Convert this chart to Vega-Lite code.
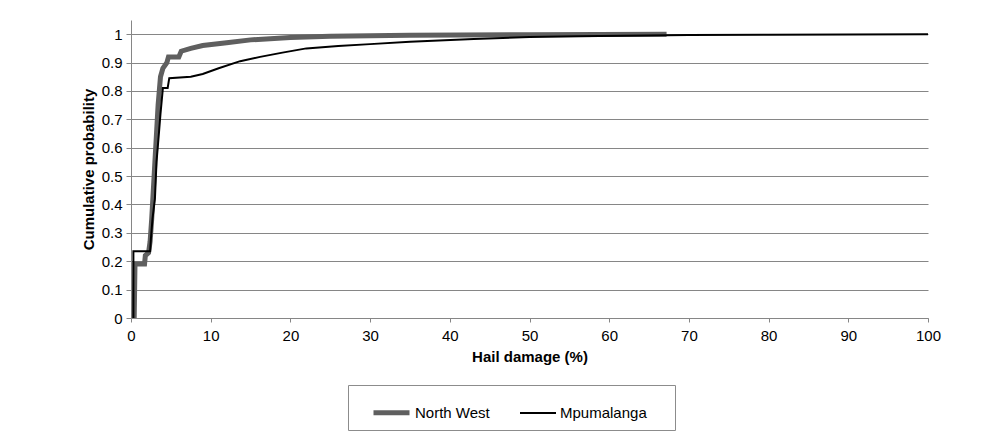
{
  "$schema": "https://vega.github.io/schema/vega-lite/v6.json",
  "autosize": {"type": "none"},
  "padding": {"left": 131, "top": 20, "right": 67, "bottom": 116},
  "width": 797,
  "height": 298,
  "background": "white",
  "config": {
    "font": "Liberation Sans",
    "view": {"stroke": null},
    "axis": {
      "gridColor": "#868686",
      "gridWidth": 1,
      "domainColor": "#868686",
      "tickColor": "#868686",
      "labelColor": "#000000",
      "titleColor": "#000000",
      "labelFontSize": 15,
      "titleFontSize": 15,
      "titleFontWeight": "bold",
      "labelFlush": false
    }
  },
  "data": {
    "values": [
      {"series": "North West", "damage": 0.4, "p": 0},
      {"series": "North West", "damage": 0.5, "p": 0.19},
      {"series": "North West", "damage": 1.7, "p": 0.19},
      {"series": "North West", "damage": 1.8, "p": 0.22},
      {"series": "North West", "damage": 2.2, "p": 0.23},
      {"series": "North West", "damage": 2.4, "p": 0.27},
      {"series": "North West", "damage": 2.6, "p": 0.35},
      {"series": "North West", "damage": 2.8, "p": 0.45},
      {"series": "North West", "damage": 3.0, "p": 0.55},
      {"series": "North West", "damage": 3.2, "p": 0.65},
      {"series": "North West", "damage": 3.4, "p": 0.75},
      {"series": "North West", "damage": 3.7, "p": 0.85},
      {"series": "North West", "damage": 4.0, "p": 0.88},
      {"series": "North West", "damage": 4.5, "p": 0.9},
      {"series": "North West", "damage": 4.7, "p": 0.92},
      {"series": "North West", "damage": 6.0, "p": 0.92},
      {"series": "North West", "damage": 6.3, "p": 0.94},
      {"series": "North West", "damage": 7.5, "p": 0.95},
      {"series": "North West", "damage": 9, "p": 0.96},
      {"series": "North West", "damage": 12, "p": 0.97},
      {"series": "North West", "damage": 15, "p": 0.98},
      {"series": "North West", "damage": 20, "p": 0.988},
      {"series": "North West", "damage": 25, "p": 0.993},
      {"series": "North West", "damage": 35, "p": 0.996},
      {"series": "North West", "damage": 50, "p": 0.998},
      {"series": "North West", "damage": 67.2, "p": 1.0},
      {"series": "Mpumalanga", "damage": 0.3, "p": 0},
      {"series": "Mpumalanga", "damage": 0.3, "p": 0.235},
      {"series": "Mpumalanga", "damage": 2.4, "p": 0.235},
      {"series": "Mpumalanga", "damage": 2.5, "p": 0.28},
      {"series": "Mpumalanga", "damage": 2.7, "p": 0.35},
      {"series": "Mpumalanga", "damage": 3.0, "p": 0.42},
      {"series": "Mpumalanga", "damage": 3.2, "p": 0.55},
      {"series": "Mpumalanga", "damage": 3.5, "p": 0.65},
      {"series": "Mpumalanga", "damage": 3.7, "p": 0.72},
      {"series": "Mpumalanga", "damage": 4.0, "p": 0.81},
      {"series": "Mpumalanga", "damage": 4.6, "p": 0.81},
      {"series": "Mpumalanga", "damage": 4.8, "p": 0.845},
      {"series": "Mpumalanga", "damage": 7.5, "p": 0.85},
      {"series": "Mpumalanga", "damage": 9, "p": 0.86},
      {"series": "Mpumalanga", "damage": 11, "p": 0.88},
      {"series": "Mpumalanga", "damage": 13.7, "p": 0.905},
      {"series": "Mpumalanga", "damage": 16.2, "p": 0.92},
      {"series": "Mpumalanga", "damage": 19, "p": 0.935},
      {"series": "Mpumalanga", "damage": 22, "p": 0.95},
      {"series": "Mpumalanga", "damage": 26, "p": 0.958},
      {"series": "Mpumalanga", "damage": 30, "p": 0.965},
      {"series": "Mpumalanga", "damage": 35, "p": 0.973},
      {"series": "Mpumalanga", "damage": 43, "p": 0.983},
      {"series": "Mpumalanga", "damage": 50, "p": 0.99},
      {"series": "Mpumalanga", "damage": 56, "p": 0.993},
      {"series": "Mpumalanga", "damage": 70, "p": 0.997},
      {"series": "Mpumalanga", "damage": 80, "p": 0.998},
      {"series": "Mpumalanga", "damage": 100, "p": 1.0}
    ]
  },
  "mark": {"type": "line", "strokeJoin": "miter", "clip": false},
  "encoding": {
    "x": {
      "field": "damage",
      "type": "quantitative",
      "scale": {"domain": [0, 100], "nice": false, "zero": true},
      "axis": {
        "values": [0, 10, 20, 30, 40, 50, 60, 70, 80, 90, 100],
        "grid": false,
        "tickSize": 4,
        "labelPadding": 6,
        "title": "Hail damage (%)",
        "titlePadding": 6
      }
    },
    "y": {
      "field": "p",
      "type": "quantitative",
      "scale": {"domain": [0, 1.05], "nice": false},
      "axis": {
        "values": [0, 0.1, 0.2, 0.3, 0.4, 0.5, 0.6, 0.7, 0.8, 0.9, 1],
        "labelExpr": "datum.value == 0 ? '0' : datum.value == 1 ? '1' : format(datum.value, '.1f')",
        "grid": true,
        "tickSize": 5,
        "labelPadding": 4,
        "title": "Cumulative probability",
        "titlePadding": 5
      }
    },
    "color": {
      "field": "series",
      "type": "nominal",
      "scale": {"domain": ["North West", "Mpumalanga"], "range": ["#5f5f5f", "#000000"]},
      "legend": {
        "title": " ",
        "titleOrient": "left",
        "titlePadding": 16,
        "titleFontSize": 15,
        "orient": "none",
        "direction": "horizontal",
        "legendX": 217,
        "legendY": 365,
        "symbolType": "stroke",
        "symbolSize": 1296,
        "labelFontSize": 15,
        "labelColor": "#000000",
        "labelOffset": 3,
        "labelExpr": "datum.label == 'Mpumalanga' ? datum.label + '\u00a0\u00a0\u00a0\u00a0\u00a0\u200b' : datum.label",
        "columnPadding": 26,
        "strokeColor": "#8c8c8c",
        "padding": 7,
        "fillColor": "white"
      }
    },
    "strokeWidth": {
      "field": "series",
      "type": "nominal",
      "scale": {"domain": ["North West", "Mpumalanga"], "range": [5, 2]},
      "legend": null
    }
  }
}
